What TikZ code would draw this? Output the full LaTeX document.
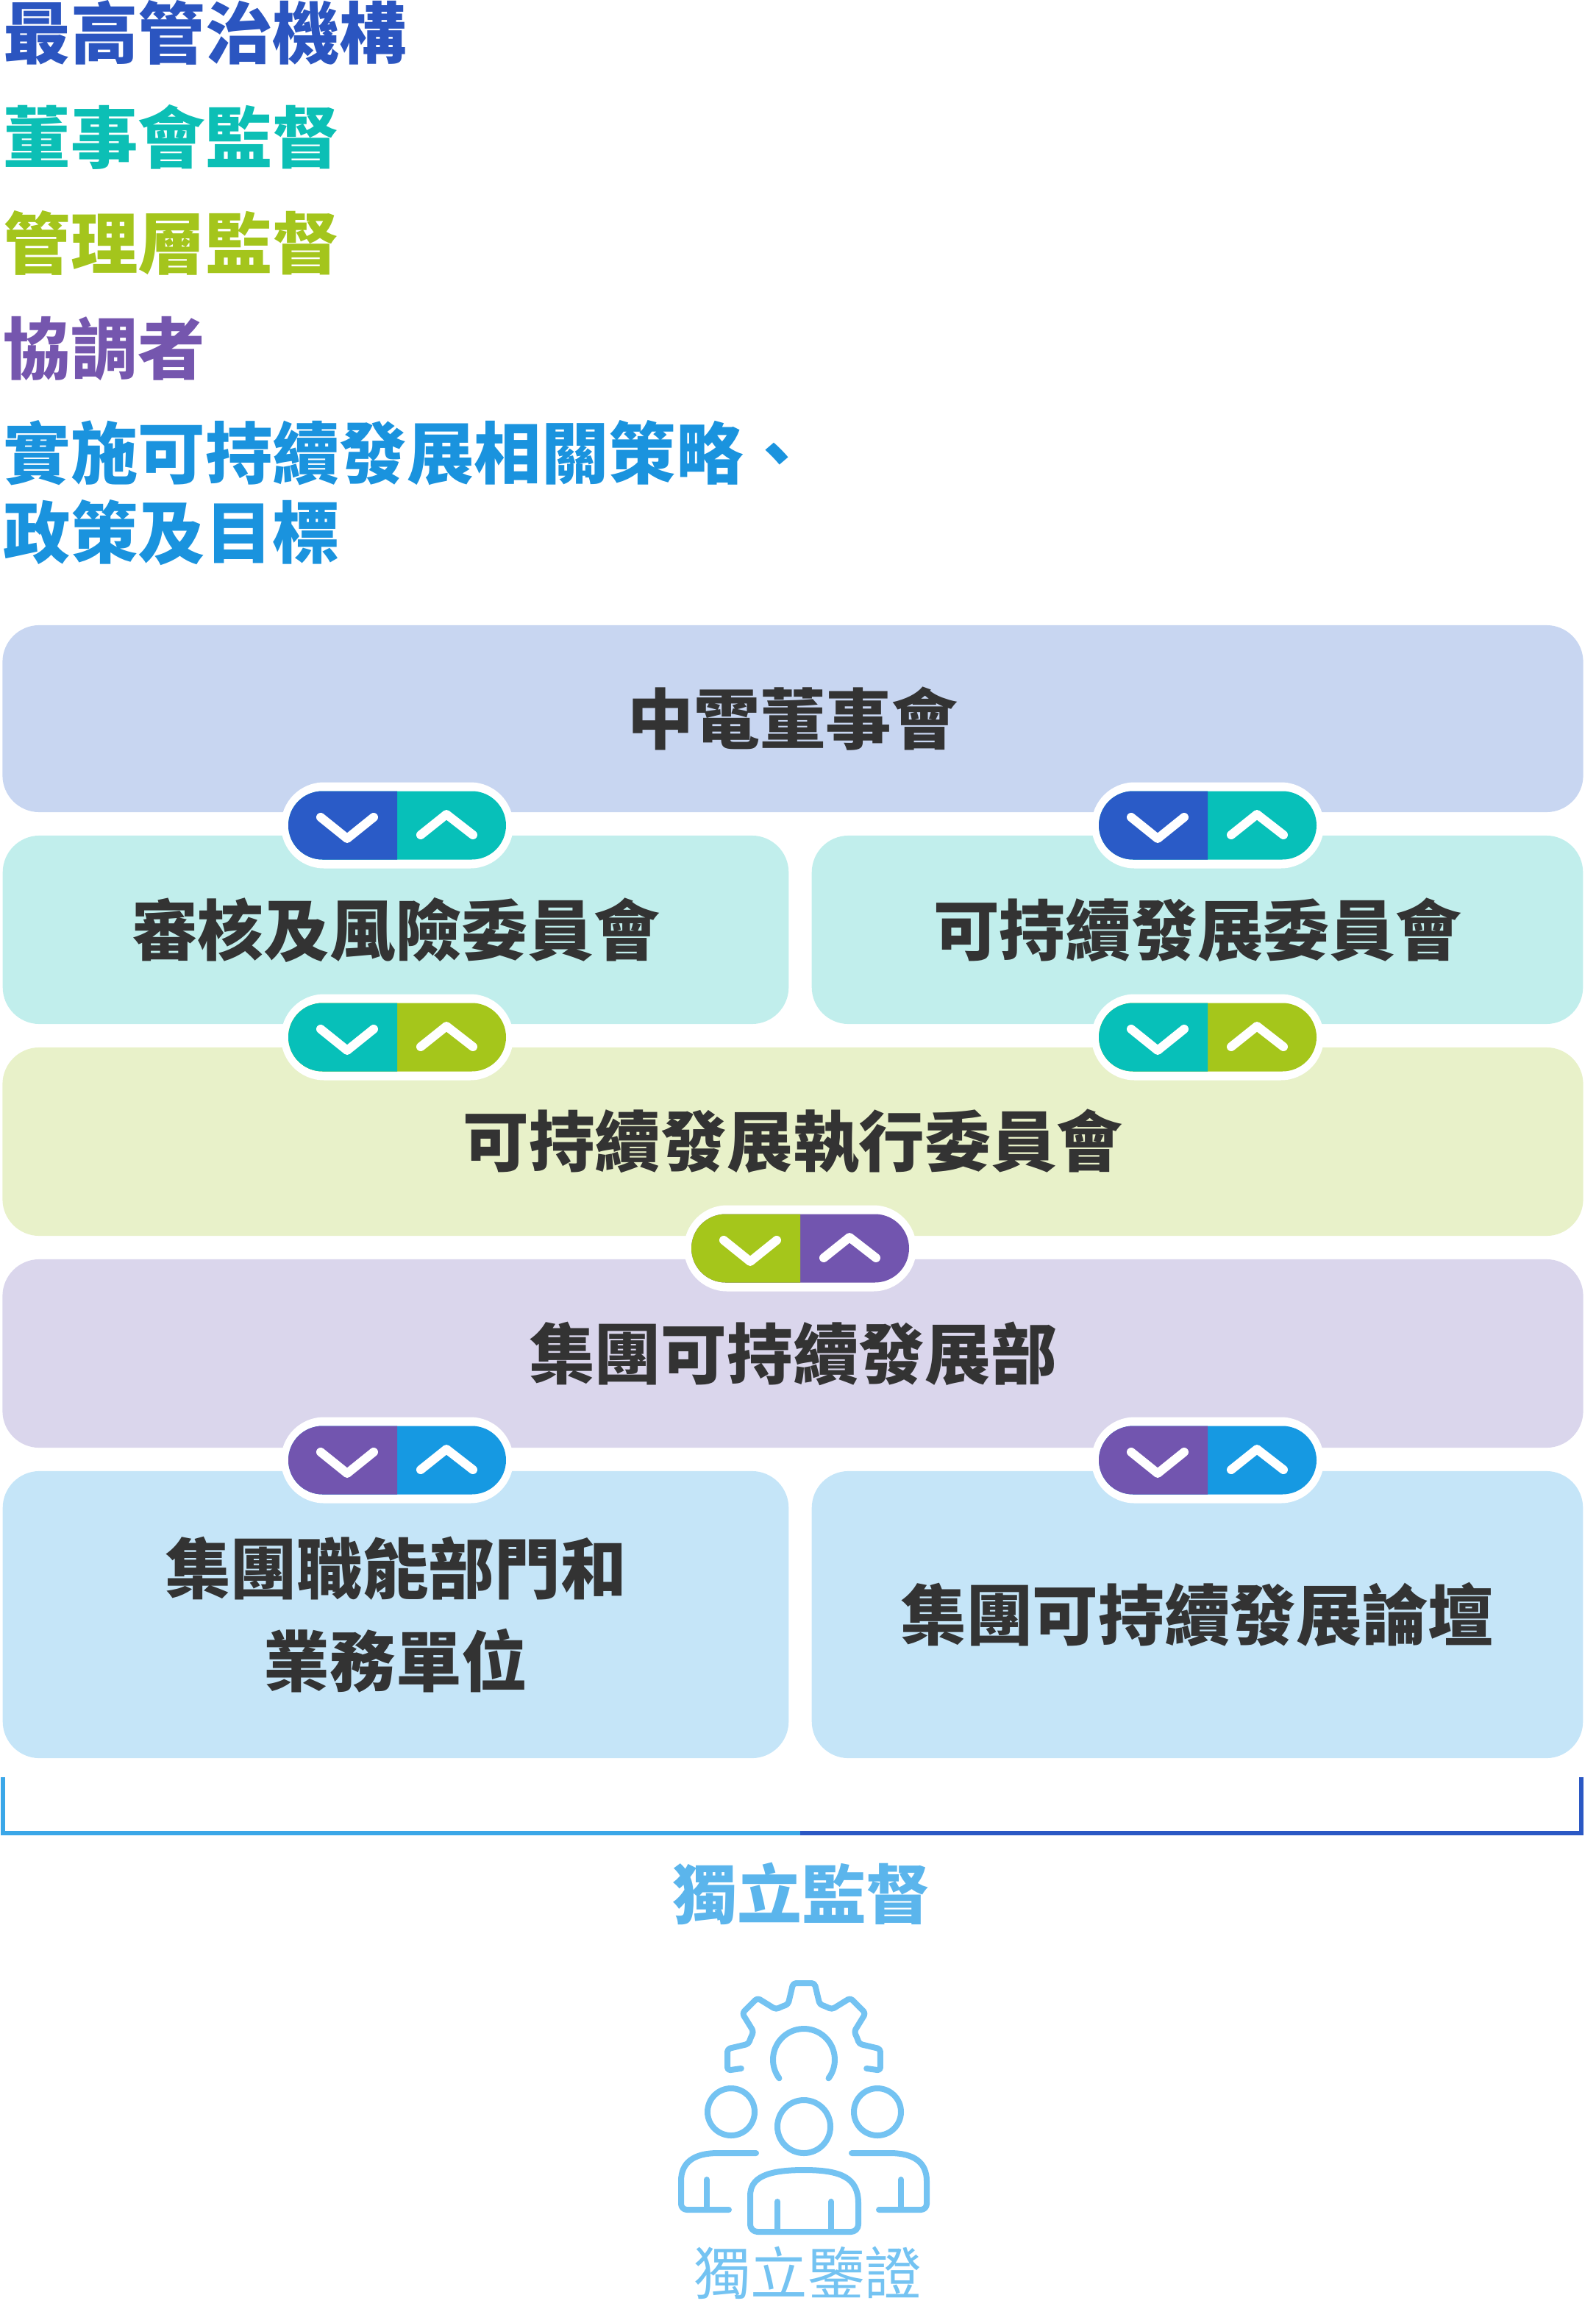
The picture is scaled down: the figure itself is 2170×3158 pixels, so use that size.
\documentclass[tikz,border=0pt]{standalone}
\usepackage{fontspec}
\setmainfont{Noto Sans CJK TC}
\definecolor{lA}{HTML}{2B55C0}\definecolor{lB}{HTML}{0CBFB5}\definecolor{lC}{HTML}{A4C51C}
\definecolor{lD}{HTML}{7556AE}\definecolor{lE}{HTML}{1A93DE}
\definecolor{fA}{HTML}{C8D6F1}\definecolor{fB}{HTML}{C1EEEC}\definecolor{fC}{HTML}{E8F1C9}
\definecolor{fD}{HTML}{DAD6EC}\definecolor{fE}{HTML}{C5E5F8}
\definecolor{bBlue}{HTML}{2A5BC7}\definecolor{bTeal}{HTML}{07C0B9}\definecolor{bLime}{HTML}{A5C61B}
\definecolor{bPurp}{HTML}{7255AF}\definecolor{bSky}{HTML}{1699E2}
\definecolor{txt}{HTML}{333333}\definecolor{icon}{HTML}{74C3F2}
\definecolor{indep}{HTML}{5BB5EC}\definecolor{brL}{HTML}{3BA7E8}\definecolor{brR}{HTML}{2B58C4}
\newcommand\mybadge[4]{%
\begin{scope}[shift={(#1,#2)}]
\fill[white,rounded corners=0.585cm] (-158,-58.5) rectangle (158,58.5);
\fill[#4,rounded corners=0.465cm] (-148,-46.5) rectangle (148,46.5);
\begin{scope}\clip (-160,-60) rectangle (0,60);
\fill[#3,rounded corners=0.465cm] (-148,-46.5) rectangle (148,46.5);\end{scope}
\draw[white,line width=0.12cm,line cap=round,line join=round] (-104,-11)--(-68,18)--(-32,-11);
\draw[white,line width=0.12cm,line cap=round,line join=round] (32,13)--(67,-15)--(103,13);
\end{scope}}
\begin{document}
\begin{tikzpicture}[x=0.01cm,y=-0.01cm,
 leg/.style={anchor=west,inner sep=0,font=\fontsize{26}{30}\selectfont\bfseries},
 box/.style={rounded corners=0.5cm,inner sep=0,text=txt,align=center,font=\fontsize{25.5}{35.7}\selectfont\bfseries}]
\useasboundingbox (0,0) rectangle (2170,3158);
\node[leg,text=lA] (l1) at (4,44) {最高管治機構};
\node[leg,text=lB] (l2) at (4,186) {董事會監督};
\node[leg,text=lC] (l3) at (4,330) {管理層監督};
\node[leg,text=lD] (l4) at (4,474) {協調者};
\node[leg,text=lE] (l5) at (4,616) {實施可持續發展相關策略、};
\node[leg,text=lE] (l6) at (4,724) {政策及目標};
\node[box,fill=fA,minimum width=21.48cm,minimum height=2.54cm] (b1) at (1078,977) {中電董事會};
\node[box,fill=fB,minimum width=10.68cm,minimum height=2.56cm] (b2l) at (538,1264) {審核及風險委員會};
\node[box,fill=fB,minimum width=10.48cm,minimum height=2.56cm] (b2r) at (1628,1264) {可持續發展委員會};
\node[box,fill=fC,minimum width=21.48cm,minimum height=2.56cm] (b3) at (1078,1552) {可持續發展執行委員會};
\node[box,fill=fD,minimum width=21.48cm,minimum height=2.56cm] (b4) at (1078,1840) {集團可持續發展部};
\node[box,fill=fE,minimum width=10.68cm,minimum height=3.9cm] (b5l) at (538,2195) {集團職能部門和\\業務單位};
\node[box,fill=fE,minimum width=10.48cm,minimum height=3.9cm] (b5r) at (1628,2195) {集團可持續發展論壇};
\mybadge{540}{1122}{bBlue}{bTeal}
\mybadge{1642}{1122}{bBlue}{bTeal}
\mybadge{540}{1410}{bTeal}{bLime}
\mybadge{1642}{1410}{bTeal}{bLime}
\mybadge{1088}{1697}{bLime}{bPurp}
\mybadge{540}{1985}{bPurp}{bSky}
\mybadge{1642}{1985}{bPurp}{bSky}
\draw[brL,line width=0.06cm] (4,2416)--(4,2492)--(1090,2492);
\draw[brR,line width=0.06cm] (1088,2492)--(2150,2492)--(2150,2416);
\node[inner sep=0,text=indep,font=\fontsize{25}{30}\selectfont\bfseries] (ind) at (1090,2574) {獨立監督};
\begin{scope}[shift={(1093,2800)},yscale=-1,icon,line width=0.08cm,line cap=round,line join=round]
\draw[rounded corners=0.04cm] (-8:86) -- (-8:105) -- (8:105) -- (16:78) arc[start angle=16,end angle=29,radius=78] -- (37:105) -- (53:105) -- (61:78) arc[start angle=61,end angle=74,radius=78] -- (82:105) -- (98:105) -- (106:78) arc[start angle=106,end angle=119,radius=78] -- (127:105) -- (143:105) -- (151:78) arc[start angle=151,end angle=164,radius=78] -- (172:105) -- (188:105) -- (188:86);
\draw (-37:42) arc[start angle=-37,end angle=217,radius=42];
\draw (-99,-71) circle[radius=32];
\draw (100,-71) circle[radius=32];
\draw (0,-91) circle[radius=36];
\draw (74,-195) [rounded corners=0.1cm]-- (74,-234) -- (-73,-234) -- (-73,-195) [sharp corners] .. controls (-73,-160) and (-50,-150) .. (0,-150) .. controls (50,-150) and (74,-160) .. (74,-195);
\draw (-36,-193)--(-36,-234); \draw (37,-193)--(37,-234);
\draw (-65,-127) -- (-117,-127) .. controls (-150,-127) and (-167,-140) .. (-167,-165) [rounded corners=0.08cm] -- (-167,-204) -- (-102,-204);
\draw (-132,-163)--(-132,-204);
\draw (65,-127) -- (117,-127) .. controls (150,-127) and (167,-140) .. (167,-165) [rounded corners=0.08cm] -- (167,-204) -- (102,-204);
\draw (132,-163)--(132,-204);
\end{scope}
\node[inner sep=0,text=icon,font=\fontsize{22}{26}\selectfont] (ver) at (1098,3090) {獨立鑒證};
\end{tikzpicture}
\end{document}
